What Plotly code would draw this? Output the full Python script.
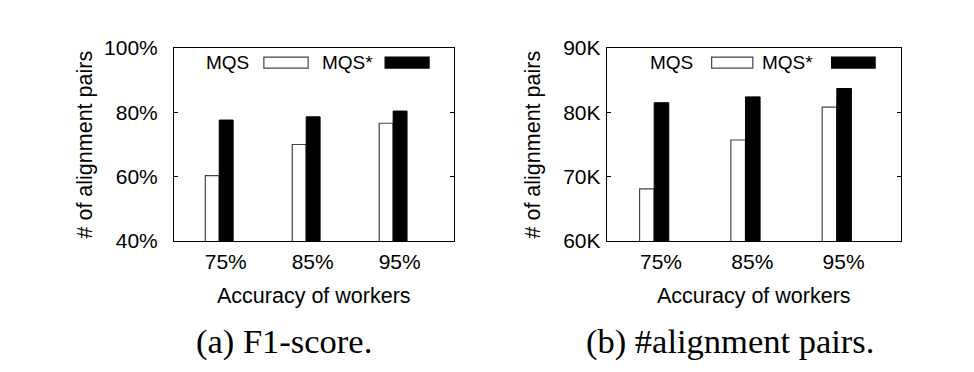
import plotly.graph_objects as go

# ---- data ----
categories = ["75%", "85%", "95%"]
group_pos = [0, 1, 2]
f1_mqs = [60.3, 70.0, 76.6]
f1_mqs_star = [77.6, 78.6, 80.4]
pairs_mqs = [68100, 75700, 80800]
pairs_mqs_star = [81500, 82400, 83700]
f1_ticks = [40, 60, 80, 100]
f1_ticktext = ["40%", "60%", "80%", "100%"]
pairs_ticks = [60000, 70000, 80000, 90000]
pairs_ticktext = ["60K", "70K", "80K", "90K"]
series_names = ["MQS", "MQS*"]

W, H = 974, 372
OFF = 8  # page body margin offset
FONT = "Liberation Sans, Arial, sans-serif"
SERIF = "Liberation Serif, Times New Roman, serif"
BW = 0.16
label_pos = [p + 0.075 for p in group_pos]


def px(x):
    return (x - OFF) / W


def py(y):
    return 1 - (y - OFF) / H


fig = go.Figure()


def add_bars(xa, ya, v1, v2):
    fig.add_trace(go.Bar(x=group_pos, y=v1, width=BW, offset=-BW, name=series_names[0],
                         marker=dict(color="white", line=dict(color="#444", width=1.2)),
                         xaxis=xa, yaxis=ya, showlegend=False))
    fig.add_trace(go.Bar(x=group_pos, y=v2, width=BW, offset=0, name=series_names[1],
                         marker=dict(color="black", line=dict(color="black", width=1)),
                         xaxis=xa, yaxis=ya, showlegend=False))


add_bars("x", "y", f1_mqs, f1_mqs_star)
add_bars("x2", "y2", pairs_mqs, pairs_mqs_star)

xcommon = dict(range=[-0.52, 2.70], tickvals=label_pos, ticktext=categories,
               showline=True, linecolor="black", linewidth=1, mirror=True, automargin=False,
               ticks="", showgrid=False, zeroline=False, ticklabelstandoff=2,
               tickfont=dict(family=FONT, size=21, color="black"), fixedrange=True)
ycommon = dict(showline=True, linecolor="black", linewidth=1, mirror="ticks", automargin=False,
               ticks="inside", ticklen=4, tickcolor="black", showgrid=False, zeroline=False,
               tickfont=dict(family=FONT, size=21, color="black"), domain=[py(241), py(48)])

fig.update_layout(
    width=W, height=H, margin=dict(l=0, r=0, t=0, b=0),
    paper_bgcolor="white", plot_bgcolor="white", barmode="overlay",
    xaxis=dict(domain=[px(174), px(454)], anchor="y", **xcommon),
    xaxis2=dict(domain=[px(606.7), px(900.7)], anchor="y2", **xcommon),
    yaxis=dict(anchor="x", range=[40, 100], tickvals=f1_ticks, ticktext=f1_ticktext,
               ticklabelstandoff=11, **ycommon),
    yaxis2=dict(anchor="x2", range=[60000, 90000], tickvals=pairs_ticks, ticktext=pairs_ticktext,
                ticklabelstandoff=1, **ycommon),
)

# custom legends (text left of swatch, gnuplot style)
legends = [
    ("x", "y", [(0.275, 0.321, 0.479), (0.718, 0.754, 0.911)]),
    ("x2", "y2", [(0.300, 0.357, 0.497), (0.709, 0.765, 0.913)]),
]
for xa, ya, items in legends:
    for (tx, b0, b1), name, fill in zip(items, series_names, ["white", "black"]):
        fig.add_shape(type="rect", xref=f"{xa} domain", yref=f"{ya} domain",
                      x0=b0, x1=b1, y0=0.896, y1=0.953, fillcolor=fill,
                      line=dict(color="#444" if fill == "white" else "black", width=1.2))
        fig.add_annotation(xref=f"{xa} domain", yref=f"{ya} domain", x=tx, y=0.925,
                           text=name, showarrow=False, xanchor="right", yanchor="middle",
                           font=dict(family=FONT, size=19, color="black"))

# axis titles and captions
for cx, yx, capx, cap in [(314, 84, 284, "(a) F1-score."), (753.7, 532, 730, "(b) #alignment pairs.")]:
    fig.add_annotation(xref="paper", yref="paper", x=px(cx), y=py(296),
                       text="Accuracy of workers", showarrow=False,
                       xanchor="center", yanchor="middle",
                       font=dict(family=FONT, size=21.5, color="black"))
    fig.add_annotation(xref="paper", yref="paper", x=px(yx), y=py(144.5),
                       text="# of alignment pairs", showarrow=False, textangle=-90,
                       xanchor="center", yanchor="middle",
                       font=dict(family=FONT, size=21.5, color="black"))
    fig.add_annotation(xref="paper", yref="paper", x=px(capx), y=py(341),
                       text=cap, showarrow=False,
                       xanchor="center", yanchor="middle",
                       font=dict(family=SERIF, size=34.5, color="black"))

fig.write_html("out.html")
